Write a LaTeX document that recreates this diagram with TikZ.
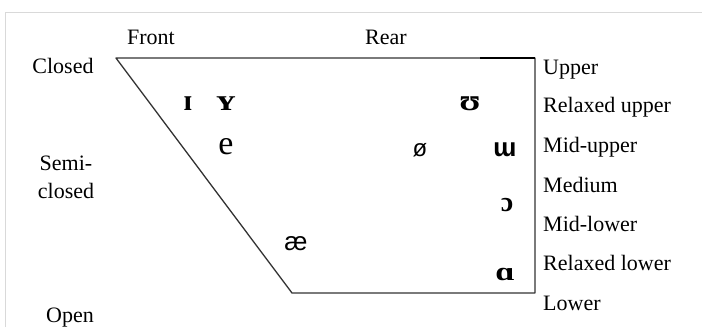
\documentclass[tikz,border=0pt]{standalone}
\usepackage{fontspec}
\setmainfont{Liberation Serif}
\newfontfamily\vsans{Liberation Sans}
\newfontfamily\vserif{Liberation Serif}
\begin{document}
\begin{tikzpicture}[x=1pt,y=-1pt,
  lbl/.style={inner sep=0pt,font=\fontsize{22}{28}\selectfont,text height=0.7em,text depth=0.2em},
  rlbl/.style={lbl,anchor=west},
  vow/.style={inner sep=0pt,font=\vsans\fontsize{26}{28}\selectfont},
  vowserif/.style={inner sep=0pt,font=\vserif\bfseries\fontsize{30}{32}\selectfont},
  chart/.style={draw=black!80,line width=1.3pt,line join=round},
  frame/.style={draw=black!15,line width=1pt}]
\useasboundingbox (0,0) rectangle (702,327);
\fill[white] (0,0) rectangle (702,327);
% frame
\coordinate (f1) at (5,327);
\coordinate (f2) at (5,12);
\coordinate (f3) at (702,12);
\draw[frame] (f1) -- (f2) -- (f3);
% chart corners
\coordinate (tl) at (116,58);
\coordinate (tr) at (535,58);
\coordinate (br) at (535,293);
\coordinate (bl) at (292,293);
\coordinate (tk) at (480,58);
\draw[chart] (tl) -- (tr) -- (br) -- (bl) -- cycle;
\draw[draw=black,line width=2.6pt] (tk) -- (tr);
% top labels
\node[lbl] (front) at (151,42) {Front};
\node[lbl] (rear) at (386,42) {Rear};
% left labels
\node[lbl] (closed) at (63,71) {Closed};
\node[lbl,align=center] (semi) at (66,196) {Semi-\\closed};
\node[lbl] (open) at (70,320) {Open};
% right labels
\node[rlbl] (upper) at (543,72) {Upper};
\node[rlbl] (rupper) at (543,110) {Relaxed upper};
\node[rlbl] (mupper) at (543,150) {Mid-upper};
\node[rlbl] (medium) at (543,190) {Medium};
\node[rlbl] (mlower) at (543,229) {Mid-lower};
\node[rlbl] (rlower) at (543,268) {Relaxed lower};
\node[rlbl] (lower) at (543,308) {Lower};
% vowels
\node[vowserif] (vI) at (188,104) {ɪ};
\node[vowserif,xscale=1.2] (vY) at (226,104) {ʏ};
\node[inner sep=0pt,font=\vserif\fontsize{34}{36}\selectfont] (ve) at (226,147) {e};
\node[vow,font=\vsans\fontsize{24}{26}\selectfont] (vo) at (420,150) {ø};
\node[vowserif,xscale=1.15] (vU) at (470,104) {ʊ};
\node[vow,font=\vsans\bfseries\fontsize{26}{28}\selectfont] (vm) at (505,150) {ɯ};
\node[vowserif,font=\vserif\bfseries\fontsize{28}{30}\selectfont] (vc) at (507,205) {ɔ};
\node[vow] (vae) at (296,244) {æ};
\node[vowserif,xscale=1.3,font=\vserif\bfseries\fontsize{26}{28}\selectfont] (va) at (505,274) {ɑ};
\end{tikzpicture}
\end{document}
